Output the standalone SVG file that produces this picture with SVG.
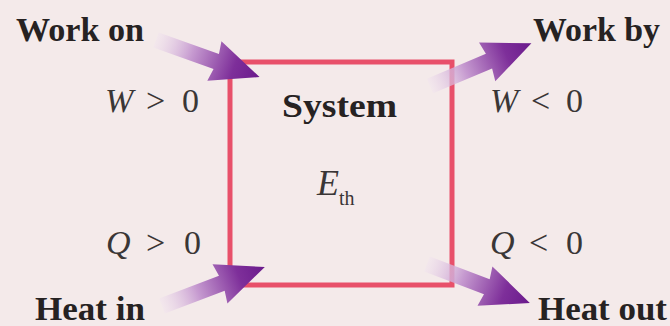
<svg xmlns="http://www.w3.org/2000/svg" xmlns:xlink="http://www.w3.org/1999/xlink" width="670" height="326" viewBox="0 0 670 326">
<defs>
<style>
.lbl{font-weight:bold;font-size:33px;fill:#262222}
.math{font-size:34px;fill:#3a3636}
.it{font-style:italic}
.box{fill:none;stroke:#e8506a;stroke-width:5}
</style>
<linearGradient id="g" x1="0" y1="0" x2="1" y2="0">
<stop offset="0" stop-color="#f1e3ef" stop-opacity="0.4"/>
<stop offset="0.35" stop-color="#c69ad0"/>
<stop offset="0.75" stop-color="#7e2f9a"/>
<stop offset="1" stop-color="#6a1a8c"/>
</linearGradient>
<path id="arr" d="M0,-8 L64,-8 L62,-21 L110,0 L62,21 L64,8 L0,8 Z" fill="url(#g)"/>
</defs>
<rect width="670" height="326" fill="#f4eaea"/>
<g font-family="Times New Roman, Liberation Serif, DejaVu Serif, Noto Serif, serif">
<g id="system">
<rect class="box" x="230" y="62" width="222" height="223"/>
<text class="lbl" x="282" y="117" textLength="115" lengthAdjust="spacingAndGlyphs">System</text>
<text class="math" x="317" y="195"><tspan class="it" font-size="36">E</tspan><tspan font-size="20" dy="10">th</tspan></text>
</g>
<g id="connectors">
<use xlink:href="#arr" transform="translate(156,40) rotate(19.7)"/>
<use xlink:href="#arr" transform="translate(430,86) rotate(-22.8)"/>
<use xlink:href="#arr" transform="translate(162,306) rotate(-20.8)"/>
<use xlink:href="#arr" transform="translate(427,264) rotate(20.8)"/>
</g>
<g id="work-on">
<text class="lbl" x="16" y="41" textLength="128" lengthAdjust="spacingAndGlyphs">Work on</text>
<text class="math" y="112"><tspan class="it" x="105">W</tspan><tspan x="146">&gt;</tspan><tspan x="182">0</tspan></text>
</g>
<g id="work-by">
<text class="lbl" x="533" y="41" textLength="127" lengthAdjust="spacingAndGlyphs">Work by</text>
<text class="math" y="112"><tspan class="it" x="490">W</tspan><tspan x="531">&lt;</tspan><tspan x="566">0</tspan></text>
</g>
<g id="heat-in">
<text class="lbl" x="35" y="320" textLength="110" lengthAdjust="spacingAndGlyphs">Heat in</text>
<text class="math" y="254"><tspan class="it" x="106">Q</tspan><tspan x="146">&gt;</tspan><tspan x="184">0</tspan></text>
</g>
<g id="heat-out">
<text class="lbl" x="538" y="320" textLength="129" lengthAdjust="spacingAndGlyphs">Heat out</text>
<text class="math" y="254"><tspan class="it" x="490">Q</tspan><tspan x="529">&lt;</tspan><tspan x="566">0</tspan></text>
</g>
</g>
</svg>
